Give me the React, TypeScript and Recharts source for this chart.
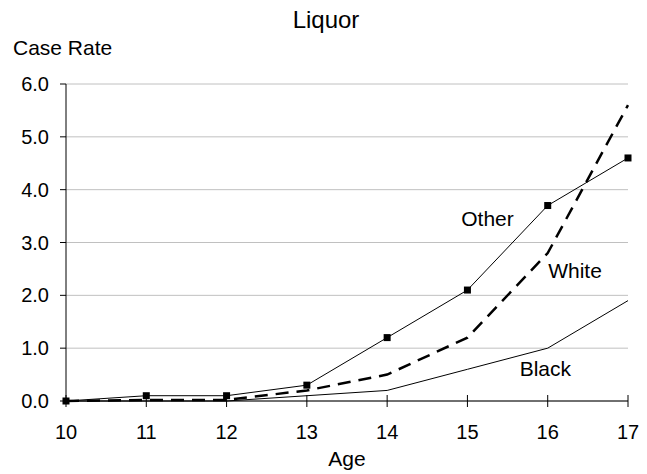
import { CartesianGrid, Label, Line, LineChart, ReferenceDot, XAxis, YAxis } from "recharts";

const ages = [10, 11, 12, 13, 14, 15, 16, 17];
const otherRate = [0, 0.1, 0.1, 0.3, 1.2, 2.1, 3.7, 4.6];
const whiteRate = [0, 0.02, 0.02, 0.2, 0.5, 1.2, 2.8, 5.6];
const blackRate = [0, 0, 0, 0.1, 0.2, 0.6, 1.0, 1.9];
const yTicks = [0, 1, 2, 3, 4, 5, 6];

// where the series names sit, in data units
const seriesLabels = [
  { name: "Other", age: 15.25, rate: 3.46 },
  { name: "White", age: 16.34, rate: 2.47 },
  { name: "Black", age: 15.97, rate: 0.61 },
];

const data = ages.map((age, i) => ({
  age,
  other: otherRate[i],
  white: whiteRate[i],
  black: blackRate[i],
}));

const font = "Arial, 'Liberation Sans', sans-serif";
const TICK_SIZE = 6;
const X_TICK_MARGIN = 18;

function SquareDot(props: any) {
  const { cx, cy } = props;
  if (cx == null || cy == null) return null;
  return <rect x={cx - 3.5} y={cy - 3.5} width={7} height={7} fill="#000" />;
}

// x ticks cross the axis: draw the upper half here, recharts draws the lower half
function AgeTick(props: any) {
  const { x, y, payload } = props;
  const axisY = y - X_TICK_MARGIN - TICK_SIZE;
  return (
    <g>
      <line x1={x} x2={x} y1={axisY} y2={axisY - 6} stroke="#000" />
      <text x={x} y={y} dy="0.71em" textAnchor="middle" fill="#000" fontSize={20} fontFamily={font}>
        {payload.value}
      </text>
    </g>
  );
}

export default function App() {
  return (
    <div style={{ position: "absolute", left: 0, top: 0, width: 647, height: 474, background: "#fff" }}>
      <LineChart width={647} height={474} data={data} margin={{ top: 84, right: 19, left: 0, bottom: 0 }}>
        <CartesianGrid vertical={false} stroke="#c0c0c0" />
        <XAxis
          dataKey="age"
          type="number"
          domain={[10, 17]}
          ticks={ages}
          height={73}
          stroke="#000"
          tickSize={TICK_SIZE}
          tickMargin={X_TICK_MARGIN}
          tick={<AgeTick />}
        >
          <Label value="Age" position="insideBottom" offset={8} fill="#000" fontSize={21} fontFamily={font} />
        </XAxis>
        <YAxis
          type="number"
          domain={[0, 6]}
          ticks={yTicks}
          width={66}
          stroke="#000"
          tickSize={TICK_SIZE}
          tickMargin={11}
          tickFormatter={(v: number) => v.toFixed(1)}
          tick={{ fill: "#000", fontSize: 20, fontFamily: font }}
        />
        <Line dataKey="black" stroke="#000" strokeWidth={1} dot={false} type="linear" isAnimationActive={false} />
        <Line
          dataKey="white"
          stroke="#000"
          strokeWidth={2.5}
          strokeDasharray="13 8"
          dot={false}
          type="linear"
          isAnimationActive={false}
        />
        <Line dataKey="other" stroke="#000" strokeWidth={1} dot={<SquareDot />} type="linear" isAnimationActive={false} />
        {seriesLabels.map((s) => (
          <ReferenceDot key={s.name} x={s.age} y={s.rate} r={0} fill="none" stroke="none" ifOverflow="visible">
            <Label value={s.name} position="center" fill="#000" fontSize={21} fontFamily={font} />
          </ReferenceDot>
        ))}
      </LineChart>
      <svg width={647} height={80} style={{ position: "absolute", left: 0, top: 0, pointerEvents: "none" }}>
        <text x={326} y={28} textAnchor="middle" fontSize={24} fontFamily={font} fill="#000">
          Liquor
        </text>
        <text x={13} y={55} fontSize={21} fontFamily={font} fill="#000">
          Case Rate
        </text>
      </svg>
    </div>
  );
}
